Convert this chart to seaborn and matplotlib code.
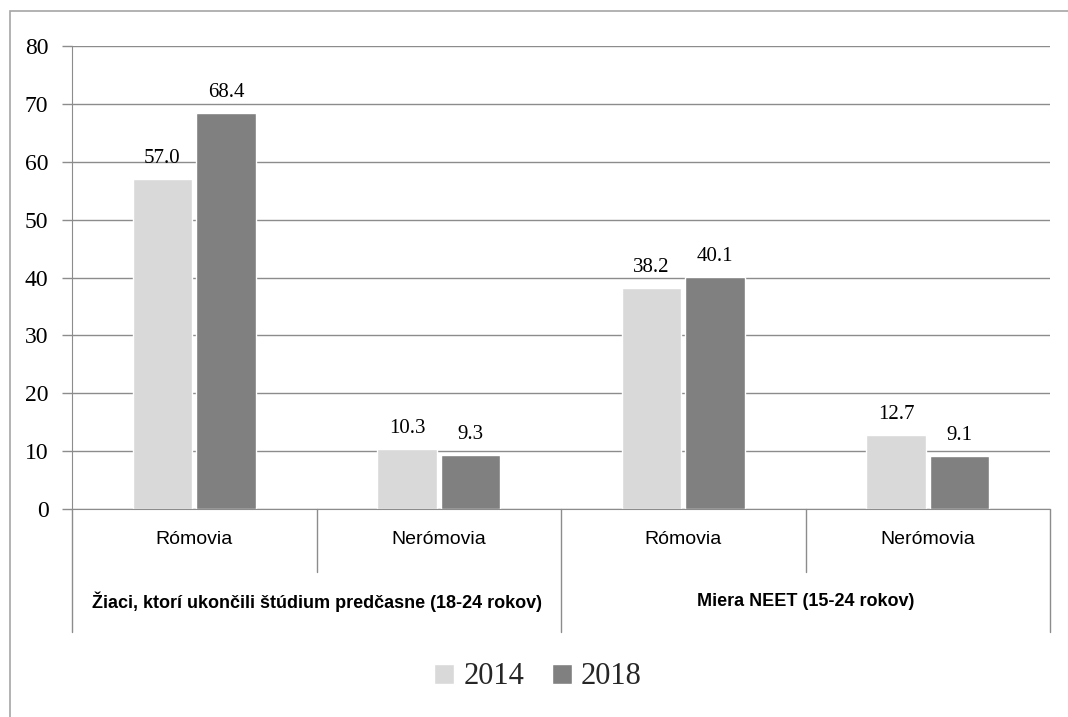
import numpy as np
import pandas as pd
import seaborn as sns
import matplotlib.pyplot as plt
from matplotlib.patches import Rectangle

groups = ["Žiaci, ktorí ukončili štúdium predčasne (18-24 rokov)", "Miera NEET (15-24 rokov)"]
subgroups = ["Rómovia", "Nerómovia"]
years = ["2014", "2018"]
values_2014 = [57.0, 10.3, 38.2, 12.7]
values_2018 = [68.4, 9.3, 40.1, 9.1]

# one row per bar; x key must be unique per group/subgroup pair
keys = [f"{g}|{s}" for g in groups for s in subgroups]
df = pd.DataFrame({
    "key": keys * 2,
    "year": [years[0]] * 4 + [years[1]] * 4,
    "value": values_2014 + values_2018,
})

sns.set_style("white")
plt.rcParams["font.family"] = ["Liberation Sans", "DejaVu Sans"]

fig = plt.figure(figsize=(10.68, 7.17), dpi=100)
ax = fig.add_axes([72 / 1068, 1 - 509 / 717, (1050 - 72) / 1068, 463 / 717])

sns.barplot(data=df, x="key", y="value", hue="year", order=keys,
            palette=["#d9d9d9", "#808080"], width=0.52, gap=0.07,
            saturation=1, ax=ax, legend=True)

serif = ["Liberation Serif", "DejaVu Serif"]
for cont in ax.containers:
    ax.bar_label(cont, fmt="%.1f", padding=8, fontsize=15, family=serif, color="black")

ax.set_ylim(0, 80)
ax.set_xlim(-0.5, 3.5)
ax.set_yticks(range(0, 81, 10))
ax.yaxis.grid(True, color="#8c8c8c", linewidth=1)
ax.set_axisbelow(True)
for side in ["top", "right"]:
    ax.spines[side].set_visible(False)
ax.spines["left"].set_color("#8c8c8c")
ax.spines["bottom"].set_color("#8c8c8c")
ax.tick_params(axis="y", length=7, color="#8c8c8c", width=1, pad=10, labelsize=17,
               left=True, labelcolor="black")
for lab in ax.get_yticklabels():
    lab.set_family(serif)

ax.set_xticks(range(4))
ax.set_xticklabels([k.split("|")[1] for k in keys], fontsize=14)
ax.tick_params(axis="x", length=0, pad=16, labelcolor="black")
ax.set_xlabel("")
ax.set_ylabel("")

# category dividers under the axis
trans = ax.get_xaxis_transform()
for x in [0.5, 2.5]:
    ax.plot([x, x], [0, -63 / 463], color="#8c8c8c", lw=1, transform=trans, clip_on=False)
for x in [-0.5, 1.5, 3.5]:
    ax.plot([x, x], [0, -123 / 463], color="#8c8c8c", lw=1, transform=trans, clip_on=False)
for i, g in enumerate(groups):
    ax.text(2 * i + 0.5, -93 / 463, g, transform=trans, ha="center", va="center",
            fontsize=13, fontweight="bold", color="black")

leg = ax.legend(loc="center", bbox_to_anchor=(538 / 1068, 1 - 677 / 717),
                bbox_transform=fig.transFigure, ncol=2, frameon=False,
                handlelength=0.65, handleheight=0.65, handletextpad=0.3,
                columnspacing=0.9, prop={"family": serif, "size": 22})

fig.add_artist(Rectangle((10 / 1068, -0.1), 2, (717 - 11) / 717 + 0.1, fill=False,
                         edgecolor="#a6a6a6", lw=1.2, transform=fig.transFigure))

fig.savefig("out.png", dpi=100)
